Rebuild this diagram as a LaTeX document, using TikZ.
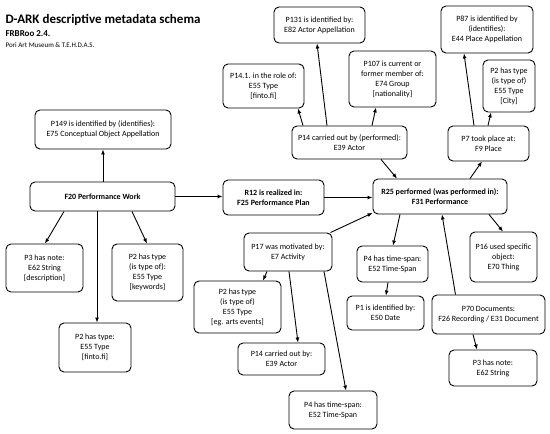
\documentclass[tikz,border=0pt]{standalone}
\usepackage{fontspec}
\setmainfont{Carlito}
\usetikzlibrary{arrows.meta,calc}
\tikzset{
  bx/.style={draw=black, line width=0.9pt, rounded corners=5pt, align=center, inner sep=0pt,
    font=\fontsize{8}{10}\selectfont, fill=white},
  bxb/.style={bx, font=\bfseries\fontsize{8}{10}\selectfont},
  arr/.style={line width=0.9pt, -{Latex[length=5pt,width=4pt]}},
}
\newcommand{\bxat}[6]{\node[#1, minimum width=#4pt, minimum height=#5pt] (#2) at #3 {#6};}
\begin{document}
\begin{tikzpicture}[x=1pt,y=-1pt]
\useasboundingbox (0,0) rectangle (550,434);
\node[anchor=west, font=\bfseries\fontsize{13}{15}\selectfont] (title) at (2,20) {D-ARK descriptive metadata schema};
\node[anchor=west, font=\bfseries\fontsize{9}{11}\selectfont] (sub) at (2,34) {FRBRoo 2.4.};
\node[anchor=west, font=\fontsize{7}{9}\selectfont] (org) at (2,45) {Pori Art Museum \& T.E.H.D.A.S.};

\bxat{bx}{P149}{(103,129.5)}{136}{39}{P149 is identified by (identifies):\\E75 Conceptual Object Appellation}
\bxat{bxb}{F20}{(102.5,196.5)}{145}{29}{F20 Performance Work}
\bxat{bxb}{R12}{(273.5,197.5)}{101}{35}{R12 is realized in:\\F25 Performance Plan}
\bxat{bxb}{R25}{(440,196.5)}{134}{35}{R25 performed (was performed in):\\F31 Performance}
\bxat{bx}{P14}{(349.5,142.5)}{115}{33}{P14 carried out by (performed):\\E39 Actor}
\bxat{bx}{P7}{(488.5,143.5)}{81}{35}{P7 took place at:\\F9 Place}
\bxat{bx}{P131}{(319.5,25)}{91}{36}{P131 is identified by:\\E82 Actor Appellation}
\bxat{bx}{P141}{(263.5,86)}{81}{44}{P14.1. in the role of:\\E55 Type\\{}[finto.fi]}
\bxat{bx}{P107}{(392.5,79)}{87}{56}{P107 is current or\\former member of:\\E74 Group\\{}[nationality]}
\bxat{bx}{P87}{(487,29.5)}{92}{47}{P87 is identified by\\(identifies):\\E44 Place Appellation}
\bxat{bx}{City}{(509,86)}{52}{52}{P2 has type\\(is type of)\\E55 Type\\{}[City]}
\bxat{bx}{P3d}{(44.5,268)}{77}{48}{P3 has note:\\E62 String\\{}[description]}
\bxat{bx}{P2kw}{(147.5,272.5)}{71}{57}{P2 has type\\(is type of):\\E55 Type\\{}[keywords]}
\bxat{bx}{P2fi}{(95,347.5)}{72}{49}{P2 has type:\\E55 Type\\{}[finto.fi]}
\bxat{bx}{P17}{(288,252)}{88}{38}{P17 was motivated by:\\E7 Activity}
\bxat{bx}{P2eg}{(237.5,307)}{87}{52}{P2 has type\\(is type of)\\E55 Type\\{}[eg. arts events]}
\bxat{bx}{P14b}{(281.5,359)}{87}{32}{P14 carried out by:\\E39 Actor}
\bxat{bx}{P4b}{(333,410)}{88}{38}{P4 has time-span:\\E52 Time-Span}
\bxat{bx}{P4r}{(392.5,264)}{71}{36}{P4 has time-span:\\E52 Time-Span}
\bxat{bx}{P1}{(385.5,313)}{77}{34}{P1 is identified by:\\E50 Date}
\bxat{bx}{P16}{(503.5,257)}{67}{50}{P16 used specific\\object:\\E70 Thing}
\bxat{bx}{P70}{(488.5,314.5)}{113}{39}{P70 Documents:\\F26 Recording / E31 Document}
\bxat{bx}{P3n}{(493,368)}{88}{36}{P3 has note:\\E62 String}

\draw[arr] ([xshift=0.5pt]F20.north) -- (P149.south);
\draw[arr] (F20.east) -- (R12.west |- F20.east);
\draw[arr] ([xshift=-38.5pt]F20.south) -- ([xshift=0.5pt]P3d.north);
\draw[arr] ([xshift=-5.5pt]F20.south) -- ([xshift=2pt]P2fi.north);
\draw[arr] ([xshift=29.5pt]F20.south) -- ([xshift=-0.5pt]P2kw.north);
\draw[arr] (R12.east) -- (R25.west |- R12.east);
\draw[arr] ([xshift=31.5pt]P14.south) -- ([xshift=-43pt]R25.north);
\draw[arr] ([xshift=-46.5pt]P14.north) -- ([xshift=34.5pt]P141.south);
\draw[arr] ([xshift=-22.5pt]P14.north) -- ([xshift=-2.5pt]P131.south);
\draw[arr] ([xshift=22.5pt]P14.north) -- ([xshift=-16.5pt]P107.south);
\draw[arr] ([xshift=30pt]R25.north) -- ([xshift=-6.5pt]P7.south);
\draw[arr] ([xshift=-14.5pt]P7.north) -- ([xshift=-23pt]P87.south);
\draw[arr] ([xshift=-0.5pt]P7.north) -- ([xshift=-18pt]City.south);
\draw[arr] ([xshift=49pt]R25.south) -- ([xshift=-0.5pt]P16.north);
\draw[arr] ([xshift=-40pt]R25.south) -- ([xshift=0.5pt]P4r.north);
\draw[arr] ([xshift=-33pt]P70.north) -- ([xshift=2pt]R25.south);
\draw[arr] ([xshift=-2pt]P17.north east) -- ([yshift=1.5pt]R25.south west);
\draw[arr] ([xshift=-21pt]P17.south) -- ([xshift=25.5pt]P2eg.north);
\draw[arr] ([xshift=1pt]P17.south) -- ([xshift=16.5pt]P14b.north);
\draw[arr] ([xshift=36pt]P17.south) -- ([xshift=13pt]P4b.north);
\draw[arr] ([xshift=-4.5pt]P4r.south) -- ([xshift=0.5pt]P1.north);
\draw[arr] ([xshift=-15.5pt]P70.south) -- ([xshift=-16pt]P3n.north);
\end{tikzpicture}
\end{document}
